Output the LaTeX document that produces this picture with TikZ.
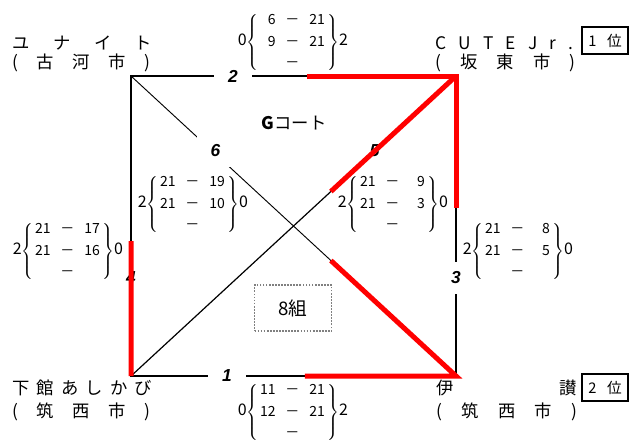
\documentclass[tikz,border=0pt]{standalone}
\usepackage{fontspec}
\setmainfont{Noto Sans CJK JP}
\newfontfamily\numfont{Liberation Sans}
\usetikzlibrary{calc}

% one game row of a score block: a - b
\newcommand{\gm}[2]{\makebox[11pt][r]{#1}\hspace{7.5pt}\makebox[10pt]{－}\hspace{8.5pt}\makebox[11pt][r]{#2}}
% score block: left result {rows} right result
\newcommand{\score}[6]{{\fontsize{12}{14}\selectfont #1}$\delimiterfactor=820\delimitershortfall=9pt\left\{\begin{tabular}{@{\,}c@{\,}}\gm{#2}{#3}\\\gm{#4}{#5}\\\gm{}{}\end{tabular}\right\}${\fontsize{12}{14}\selectfont #6}}

\begin{document}
\begin{tikzpicture}[
  x=0.75pt, y=-0.75pt,
  edge/.style={line width=1.5pt},
  diag/.style={line width=0.9pt},
  thindiag/.style={line width=0.7pt},
  win/.style={red, line width=3.75pt},
  num/.style={fill=white, minimum width=28pt, minimum height=24pt, inner sep=0pt,
    font=\numfont\bfseries\itshape\fontsize{13}{13}\selectfont},
  scorebox/.style={inner sep=0pt, font=\fontsize{10.5}{16.2}\selectfont},
  team/.style={anchor=west, inner sep=0pt, font=\fontsize{13}{13}\selectfont},
  rank/.style={draw, line width=1.5pt, minimum width=34.5pt, minimum height=20pt,
    inner sep=0pt, font=\fontsize{11}{11}\selectfont}
]
\useasboundingbox (0,0) rectangle (630,447);

% Corners
\coordinate (tl) at (131,76);
\coordinate (tr) at (456,76);
\coordinate (bl) at (131,376);
\coordinate (br) at (456,376);

% Court
\draw[edge] (tl) -- (tr) -- (br) -- (bl) -- cycle;
\draw[thindiag] (tl) -- (br);
\draw[diag] (bl) -- (tr);

% Match numbers
\node[num] (m1) at ($(bl)!0.295!(br)$) {1};
\node[num] (m2) at ($(tl)!0.314!(tr)$) {2};
\node[num] (m3) at ($(tr)!0.673!(br)$) {3};
\node[num] (m4) at ($(tl)!0.673!(bl)$) {4};
\node[num] (m5) at ($(bl)!0.75!(tr)$) {5};
\node[num] (m6) at ($(tl)!0.26!(br)+(0,-3)$) {6};

% Winners
\draw[win] ($(tl)!0.5415!(tr)$) -- (tr) -- ($(tr)!0.44!(br)$);
\draw[win] ($(bl)!0.615!(tr)$) -- (tr);
\draw[win] ($(tl)!0.615!(br)$) -- (br) -- ($(bl)!0.535!(br)$);
\draw[win] ($(tl)!0.55!(bl)$) -- (bl);

% Scores
\node[scorebox] (s2) at (293,42) {\score{0}{6}{21}{9}{21}{2}};
\node[scorebox] (s6) at (193,204) {\score{2}{21}{19}{21}{10}{0}};
\node[scorebox] (s4) at (68,251) {\score{2}{21}{17}{21}{16}{0}};
\node[scorebox] (s5) at (393,204) {\score{2}{21}{9}{21}{3}{0}};
\node[scorebox] (s3) at (518,251) {\score{2}{21}{8}{21}{5}{0}};
\node[scorebox] (s1) at (293,412) {\score{0}{11}{21}{12}{21}{2}};

% Court name and group
\node[font=\fontsize{13}{13}\selectfont] (court) at (294,123) {\textbf{G}コート};
\node[draw=gray, densely dotted, line width=1.3pt, minimum width=57.75pt, minimum height=34.5pt,
  font=\fontsize{14}{14}\selectfont] (group) at (293,308) {8組};

% Teams
\node[team] (t1) at (12,43) {\makebox[105pt][s]{ユ ナ イ ト}};
\node[team] (t1c) at (12,63) {\makebox[103.5pt][s]{( 古 河 市 )}};
\node[team] (t2) at (435,43) {\makebox[103.5pt][s]{C U T E J r .}};
\node[team] (t2c) at (435,63) {\makebox[105pt][s]{( 坂 東 市 )}};
\node[team] (t3) at (12,388) {\makebox[105pt][s]{下 館 あ し か び}};
\node[team] (t3c) at (12,412) {\makebox[103.5pt][s]{( 筑 西 市 )}};
\node[team] (t4) at (436,388) {\makebox[105.75pt][s]{伊 讃}};
\node[team] (t4c) at (436,412) {\makebox[105.75pt][s]{( 筑 西 市 )}};

% Ranks
\node[rank] (r1) at (605,40.5) {1\hspace{8pt}位};
\node[rank] (r2) at (605,387.5) {2\hspace{8pt}位};

\end{tikzpicture}
\end{document}
